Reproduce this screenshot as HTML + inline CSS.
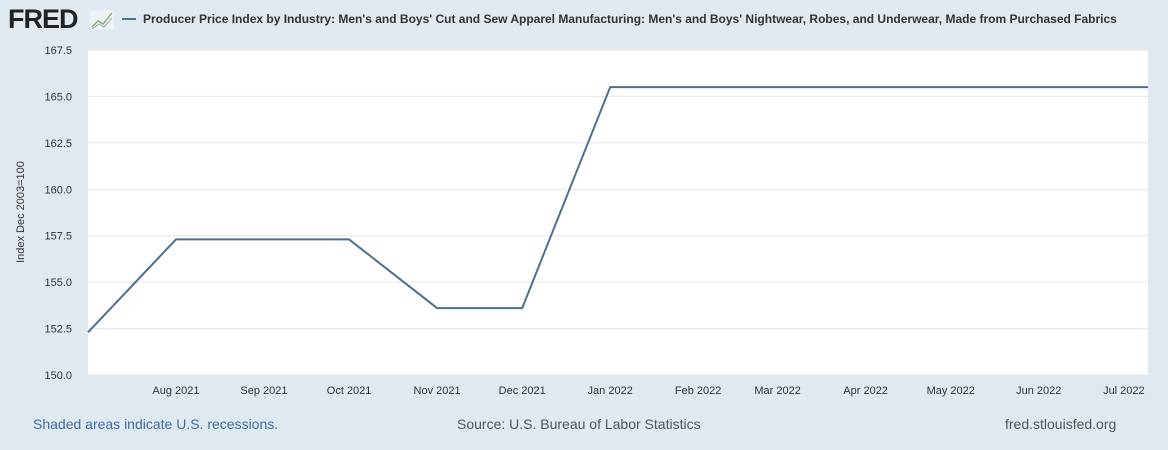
<!DOCTYPE html>
<html><head><meta charset="utf-8"><style>
body{margin:0;width:1168px;height:450px;background:#e1e9f0;font-family:"Liberation Sans",Arial,sans-serif;overflow:hidden}
svg{position:absolute;left:0;top:0}
</style></head><body>
<svg width="1168" height="450">
<text x="8" y="28" font-size="27" font-weight="bold" fill="#222" letter-spacing="-1">FRED</text>
<g><rect x="90" y="10" width="24" height="20" fill="#eef2f4"/><polyline points="92,27 98,21 103,24 112,13" fill="none" stroke="#8bb07a" stroke-width="1.5"/><polyline points="92,29 99,24 104,27 112,18" fill="none" stroke="#9ab" stroke-width="1"/></g>
<line x1="122" y1="19" x2="136" y2="19" stroke="#4572a7" stroke-width="2"/>
<text x="143" y="23" font-size="12" font-weight="bold" fill="#333">Producer Price Index by Industry: Men's and Boys' Cut and Sew Apparel Manufacturing: Men's and Boys' Nightwear, Robes, and Underwear, Made from Purchased Fabrics</text>
<rect x="88" y="50" width="1060" height="325" fill="#fff"/>
<g id="grid"></g><g id="yt"></g><g id="xt"></g>
<path id="line" fill="none" stroke="#4e6f92" stroke-width="2"/>
<text transform="translate(24,212) rotate(-90)" font-size="11" fill="#333" text-anchor="middle">Index Dec 2003=100</text>
<text x="33" y="429" font-size="14" fill="#3a6ea5">Shaded areas indicate U.S. recessions.</text>
<text x="457" y="429" font-size="14" fill="#555">Source: U.S. Bureau of Labor Statistics</text>
<text x="1005" y="429" font-size="14" fill="#555">fred.stlouisfed.org</text>
</svg>
<script>
const dates=["2021-07-01","2021-08-01","2021-09-01","2021-10-01","2021-11-01","2021-12-01","2022-01-01","2022-02-01","2022-03-01","2022-04-01","2022-05-01","2022-06-01","2022-07-01"];
const values=[152.3,157.3,157.3,157.3,153.6,153.6,165.5,165.5,165.5,165.5,165.5,165.5,165.5];
const yTicks=[150,152.5,155,157.5,160,162.5,165,167.5];
const xTickDates=["2021-08-01","2021-09-01","2021-10-01","2021-11-01","2021-12-01","2022-01-01","2022-02-01","2022-03-01","2022-04-01","2022-05-01","2022-06-01","2022-07-01"];
const xLabels=["Aug 2021","Sep 2021","Oct 2021","Nov 2021","Dec 2021","Jan 2022","Feb 2022","Mar 2022","Apr 2022","May 2022","Jun 2022","Jul 2022"];
const ns="http://www.w3.org/2000/svg";
const t0=Date.parse("2021-07-01"),pxDay=2.838;
const X=d=>88+(Date.parse(d)-t0)/864e5*pxDay;
const Y=v=>375-(v-150)/17.5*325;
function mk(tag,attrs,parent){const e=document.createElementNS(ns,tag);for(const k in attrs)e.setAttribute(k,attrs[k]);parent.appendChild(e);return e;}
const grid=document.getElementById('grid'),yt=document.getElementById('yt'),xt=document.getElementById('xt');
yTicks.forEach(v=>{
 const l=mk('line',{x1:88,x2:1148,y1:Y(v),y2:Y(v),stroke:'#e6e6e6'},grid);
 
 
 const t=mk('text',{x:72,y:Y(v)+4,'font-size':11,fill:'#333','text-anchor':'end'},yt);
 t.textContent=v.toFixed(1);
 
 
});
xTickDates.forEach((d,i)=>{
 let x=Math.min(X(d),1128);
 const t=mk('text',{x:x,y:394,'font-size':11,fill:'#333','text-anchor':'middle'},xt);
 t.textContent=xLabels[i];
 
 
});
let p=dates.map((d,i)=>(i?'L':'M')+X(d).toFixed(1)+','+Y(values[i]).toFixed(1)).join(' ');
p+=' L1148,'+Y(values[values.length-1]).toFixed(1);
document.getElementById('line').setAttribute('d',p);
</script>
</body></html>
